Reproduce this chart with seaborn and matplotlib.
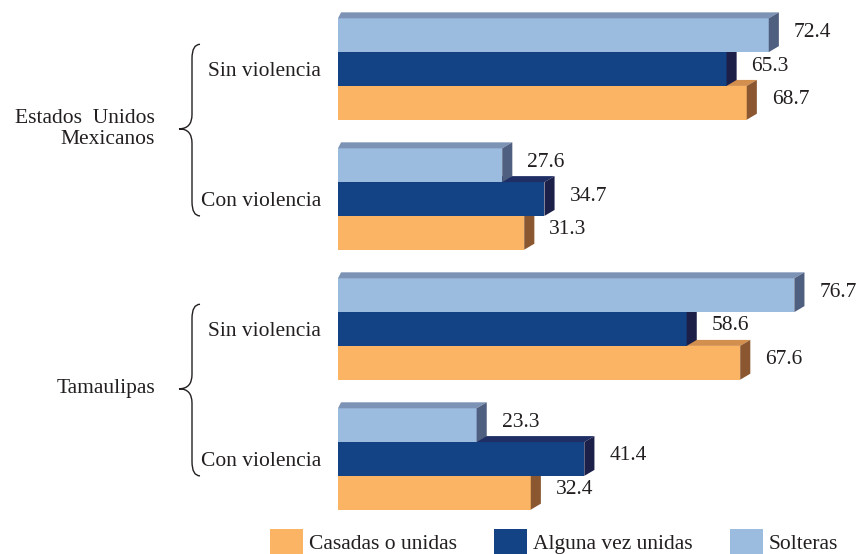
import matplotlib
matplotlib.use("Agg")
import matplotlib.pyplot as plt
import pandas as pd
import seaborn as sns
from matplotlib.patches import Patch, PathPatch, Polygon
from matplotlib.path import Path

# categories (one per bar group) and their tick labels
groups = ["eum_sin", "eum_con", "tam_sin", "tam_con"]
tick_labels = ["Sin violencia", "Con violencia", "Sin violencia", "Con violencia"]
region_labels = ["Estados  Unidos\nMexicanos", "Tamaulipas"]

series_names = ["Solteras", "Alguna vez unidas", "Casadas o unidas"]
solteras = [72.4, 27.6, 76.7, 23.3]
alguna = [65.3, 34.7, 58.6, 41.4]
casadas = [68.7, 31.3, 67.6, 32.4]

front_colors = {"Solteras": "#9bbbdf", "Alguna vez unidas": "#134385", "Casadas o unidas": "#fbb464"}
top_colors = {"Solteras": "#7d93b5", "Alguna vez unidas": "#1f2f66", "Casadas o unidas": "#d38f4e"}
side_colors = {"Solteras": "#4f5f7f", "Alguna vez unidas": "#1c2048", "Casadas o unidas": "#8a5730"}

df = pd.DataFrame({
  "grupo": groups * 3,
  "valor": solteras + alguna + casadas,
  "serie": [s for s in series_names for _ in groups],
})

sns.set_theme(style="white")
plt.rcParams["font.family"] = ["Liberation Serif", "DejaVu Serif"]
text_color = "#231f20"
fs = 15.5

fig = plt.figure(figsize=(8.58, 5.54), dpi=100)
ax = fig.add_axes([338 / 858, 29 / 554, 520 / 858, 525 / 554])

sns.barplot(
  data=df, x="valor", y="grupo", hue="serie", hue_order=series_names,
  order=groups, palette=front_colors, orient="h", width=0.78,
  saturation=1, legend=False, ax=ax, linewidth=0,
)

ax.set_xlim(0, 87.4)
ax.set_ylim(3.508, -0.531)
dx, dy = 1.7, 0.046

# fake 3D depth: top and side faces built from each seaborn bar
for i, (cont, name) in enumerate(zip(ax.containers, series_names)):
  z = 10 - i
  for rect in cont:
    rect.set_zorder(z)
    w, y, h = rect.get_width(), rect.get_y(), rect.get_height()
    top = Polygon([(0, y), (w, y), (w + dx, y - dy), (dx * 0.3, y - dy)],
                  closed=True, facecolor=top_colors[name], edgecolor="none", zorder=z)
    side = Polygon([(w, y), (w + dx, y - dy), (w + dx, y + h - dy), (w, y + h)],
                   closed=True, facecolor=side_colors[name], edgecolor="none", zorder=z)
    ax.add_patch(top)
    ax.add_patch(side)
    ax.text(w + 4.2, y + h / 2 - dy / 2, f"{w:.1f}", ha="left", va="center",
            fontsize=fs, color=text_color, zorder=20)

ax.set_xlabel("")
ax.set_ylabel("")
ax.set_xticks([])
ax.set_yticks(range(len(groups)))
ax.set_yticklabels(tick_labels, fontsize=fs, color=text_color)
ax.tick_params(axis="y", length=0, pad=12)
for sp in ax.spines.values():
  sp.set_visible(False)

# curly braces joining the two rows of each region
trans = ax.get_yaxis_transform()
px = 1 / 520


def brace(c0, c1):
  x0 = (192 - 338) * px
  wr, wl = 8 * px, 13 * px
  top, bot, mid = c0 - 0.19, c1 + 0.13, c0 + 0.46
  r = 0.11
  verts = [
    (x0 + wr, top), (x0, top), (x0, top + r),
    (x0, mid - r), (x0, mid), (x0 - wl, mid),
    (x0, mid), (x0, mid + r),
    (x0, bot - r), (x0, bot), (x0 + wr, bot),
  ]
  codes = [Path.MOVETO, Path.CURVE3, Path.CURVE3, Path.LINETO, Path.CURVE3, Path.CURVE3,
           Path.CURVE3, Path.CURVE3, Path.LINETO, Path.CURVE3, Path.CURVE3]
  ax.add_patch(PathPatch(Path(verts, codes), facecolor="none", edgecolor=text_color,
                         linewidth=1.0, transform=trans, clip_on=False))
  return mid


for k, label in enumerate(region_labels):
  mid = brace(2 * k, 2 * k + 1)
  ax.text((155 - 338) * px, mid, label, transform=trans, ha="right", va="center",
          multialignment="right", fontsize=fs, color=text_color, linespacing=1.15)

handles = [Patch(facecolor=front_colors[n], edgecolor="none") for n in series_names[::-1]]
fig.legend(
  handles, series_names[::-1], loc="upper left", bbox_to_anchor=(270 / 858, 1 - 529 / 554),
  ncol=3, frameon=False, fontsize=fs, handlelength=1.55, handleheight=1.4,
  handletextpad=0.28, columnspacing=1.7, borderpad=0, borderaxespad=0,
  labelcolor=text_color,
)

fig.savefig("out.png", dpi=100)
